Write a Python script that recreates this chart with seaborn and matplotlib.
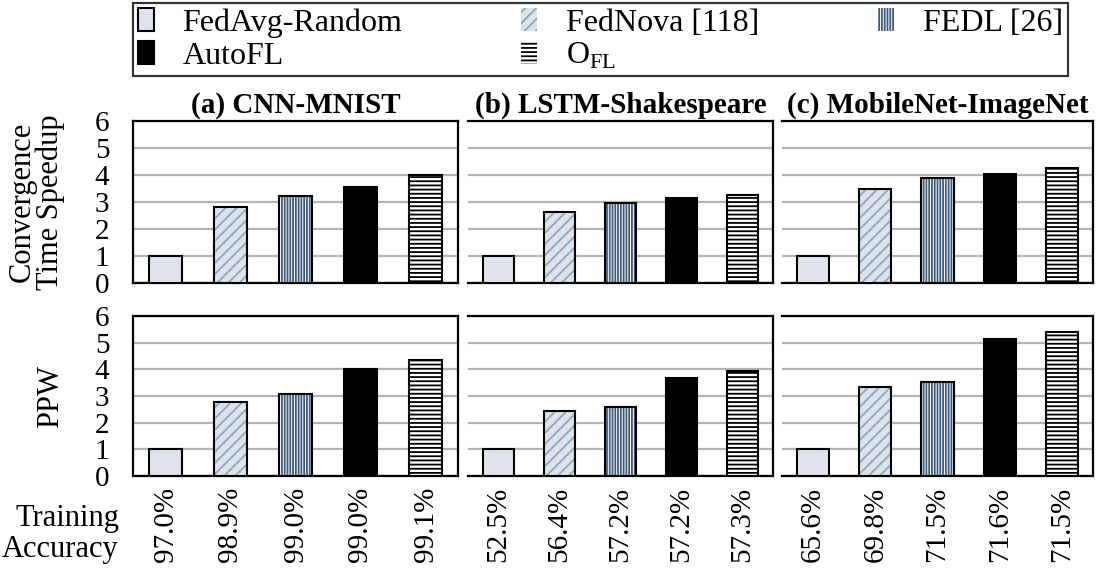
import matplotlib.pyplot as plt
import seaborn as sns
from matplotlib.patches import Patch, Rectangle

# data
methods = ["FedAvg-Random", "FedNova [118]", "FEDL [26]", "AutoFL", "O$_{\\mathrm{FL}}$"]
titles = ["(a) CNN-MNIST", "(b) LSTM-Shakespeare", "(c) MobileNet-ImageNet"]

speedup_cnn = [1.0, 2.83, 3.24, 3.55, 4.0]
speedup_lstm = [1.0, 2.63, 2.96, 3.15, 3.26]
speedup_mobilenet = [1.0, 3.47, 3.89, 4.03, 4.26]

ppw_cnn = [1.0, 2.79, 3.06, 4.0, 4.34]
ppw_lstm = [1.0, 2.43, 2.6, 3.69, 3.94]
ppw_mobilenet = [1.0, 3.32, 3.53, 5.12, 5.41]

acc_cnn = ["97.0%", "98.9%", "99.0%", "99.0%", "99.1%"]
acc_lstm = ["52.5%", "56.4%", "57.2%", "57.2%", "57.3%"]
acc_mobilenet = ["65.6%", "69.8%", "71.5%", "71.6%", "71.5%"]

speedups = [speedup_cnn, speedup_lstm, speedup_mobilenet]
ppws = [ppw_cnn, ppw_lstm, ppw_mobilenet]
accs = [acc_cnn, acc_lstm, acc_mobilenet]

# face, hatch colour, hatch pattern for each method
styles = [
    ("#dfe4ec", None, ""),
    ("#dde3ec", "#8fa6bf", "///"),
    ("white", "#3e5b79", "||||||"),
    ("black", None, ""),
    ("white", "black", "----"),
]

sns.set_style("white")
plt.rcParams["font.family"] = ["Liberation Serif", "DejaVu Serif"]
plt.rcParams["mathtext.fontset"] = "custom"
plt.rcParams["mathtext.rm"] = "Liberation Serif"
plt.rcParams["hatch.linewidth"] = 1.3
for k in ["text.color", "axes.labelcolor", "xtick.color", "ytick.color"]:
    plt.rcParams[k] = "black"

fig = plt.figure(figsize=(11.01, 5.71), dpi=100)
W, H = 1101, 571
cols = [(133, 325), (468, 305), (782, 311)]
rows = [(121, 283), (316, 476)]


def style_bars(ax):
    for i, p in enumerate(list(ax.patches)):
        face, hcol, hatch = styles[i]
        p.set_facecolor(face)
        p.set_zorder(3)
        if hatch:
            p.set_edgecolor(hcol)
            p.set_hatch(hatch)
            p.set_linewidth(0)
            ax.add_patch(Rectangle(p.get_xy(), p.get_width(), p.get_height(),
                                   fill=False, ec="black", lw=1.5, zorder=4))
        else:
            p.set_edgecolor("black")
            p.set_linewidth(1.5)


for r, (top, bot) in enumerate(rows):
    for c, (left, width) in enumerate(cols):
        ax = fig.add_axes([left / W, 1 - bot / H, width / W, (bot - top) / H])
        vals = speedups[c] if r == 0 else ppws[c]
        sns.barplot(x=list(range(5)), y=vals, ax=ax, width=0.52, color="white")
        style_bars(ax)
        ax.set_xlim(-0.5, 4.5)
        ax.set_ylim(0, 6)
        ax.set_yticks(range(7))
        ax.yaxis.grid(True, color="#b4b4b4", lw=1.6, zorder=0)
        ax.set_axisbelow(True)
        ax.tick_params(length=0, labelsize=21)
        ax.tick_params(axis="y", pad=17)
        for s in ax.spines.values():
            s.set_color("black")
            s.set_linewidth(1.6)
        if c > 0:
            ax.spines["left"].set_visible(False)
            ax.set_yticklabels([])
        if r == 0:
            ax.set_xticklabels([])
            ax.set_title(titles[c], fontsize=21, fontweight="bold", pad=6)
        else:
            ax.set_xticks(range(5))
            ax.set_xticklabels(accs[c], rotation=90, fontsize=21)
            ax.tick_params(axis="x", pad=8)
        if c == 0:
            ax.set_ylabel("Convergence\nTime Speedup" if r == 0 else "PPW", fontsize=22,
                          linespacing=0.95)
            ax.yaxis.set_label_coords(-0.21, 0.5)

fig.text(119 / W, 1 - 534 / H, "Training\nAccuracy", ha="right", va="center",
         fontsize=22, multialignment="right", linespacing=1.1)

handles = []
for (face, hcol, hatch) in styles:
    if hatch:
        handles.append(Patch(facecolor=face, edgecolor=hcol, hatch=hatch, lw=0))
    else:
        handles.append(Patch(facecolor=face, edgecolor="black", lw=1.5))
order = [0, 3, 1, 4, 2]
leg = fig.legend([handles[i] for i in order], [methods[i] for i in order],
                 loc="center", mode="expand", ncol=3,
                 bbox_to_anchor=(133 / W, 1 - 77 / H, 935 / W, 75 / H),
                 bbox_transform=fig.transFigure, fontsize=23, frameon=True,
                 fancybox=False, handlelength=0.5, handleheight=0.75,
                 handletextpad=0.9, borderpad=0.15, labelspacing=0.1, borderaxespad=0)
leg.get_frame().set_edgecolor("black")
leg.get_frame().set_linewidth(1.6)

fig.savefig("out.png", dpi=100)
